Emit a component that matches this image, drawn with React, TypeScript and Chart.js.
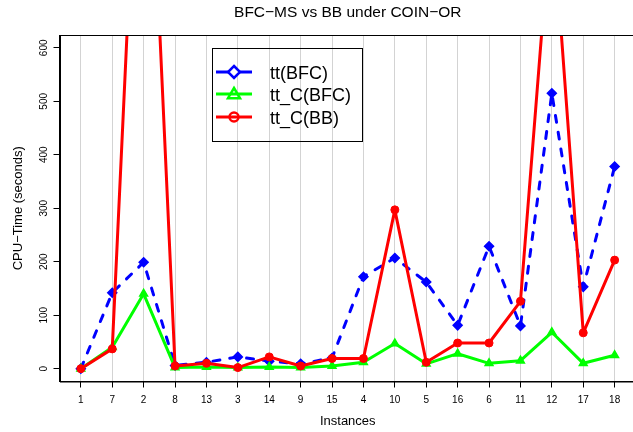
import React, { useEffect, useRef } from "react";
import { Chart, registerables } from "chart.js";

Chart.register(...registerables);

// ---- data ----
const categories = ["1", "7", "2", "8", "13", "3", "14", "9", "15", "4", "10", "5", "16", "6", "11", "12", "17", "18"];
const ttBFC = [0, 142, 199, 6, 12, 22, 14, 9, 20, 172, 207, 162, 81, 229, 80, 515, 153, 378];
const ttCBFC = [0, 40, 140, 2, 3, 2, 3, 2, 5, 12, 47, 9, 28, 10, 15, 68, 10, 25];
const ttCBB = [0, 37, 1290, 5, 10, 2, 22, 5, 19, 19, 297, 12, 48, 48, 126, 868, 67, 203];
const yTicks = [0, 100, 200, 300, 400, 500, 600];
const seriesLabels = ["tt(BFC)", "tt_C(BFC)", "tt_C(BB)"];
const seriesColors = ["#0000ff", "#00ff00", "#ff0000"];

const FONT = "'Liberation Sans', Arial, Helvetica, sans-serif";

const toPoints = (arr: number[]) => arr.map((v, i) => ({ x: i + 1, y: v }));

const frameAndLegend = {
  id: "frameAndLegend",
  afterDraw(chart: any) {
    const ctx = chart.ctx as CanvasRenderingContext2D;
    const ca = chart.chartArea;
    ctx.save();
    // plot box
    ctx.strokeStyle = "#000";
    ctx.lineWidth = 1;
    ctx.setLineDash([]);
    ctx.strokeRect(Math.round(ca.left) + 0.5, Math.round(ca.top) + 0.5, ca.right - ca.left, ca.bottom - ca.top);

    // legend
    const x0 = Math.round(ca.left) + 152;
    const y0 = Math.round(ca.top) + 13;
    const w = 150;
    const h = 93;
    ctx.strokeStyle = "#000";
    ctx.lineWidth = 1;
    ctx.strokeRect(x0 + 0.5, y0 + 0.5, w, h);
    const rows = [24, 46, 69];
    chart.data.datasets.forEach((ds: any, i: number) => {
      const y = y0 + rows[i];
      const mx = x0 + 22;
      ctx.strokeStyle = ds.borderColor;
      ctx.lineWidth = 3;
      ctx.lineCap = "butt";
      ctx.beginPath();
      ctx.moveTo(x0 + 4, y);
      ctx.lineTo(x0 + 40, y);
      ctx.stroke();
      ctx.lineWidth = 2.5;
      ctx.beginPath();
      if (i === 0) {
        const r = 6;
        ctx.moveTo(mx, y - r);
        ctx.lineTo(mx + r, y);
        ctx.lineTo(mx, y + r);
        ctx.lineTo(mx - r, y);
        ctx.closePath();
        ctx.fillStyle = "#fff";
        ctx.fill();
        ctx.stroke();
      } else if (i === 1) {
        const r = 6;
        ctx.moveTo(mx, y - r);
        ctx.lineTo(mx + r, y + r * 0.7);
        ctx.lineTo(mx - r, y + r * 0.7);
        ctx.closePath();
        ctx.stroke();
      } else {
        ctx.arc(mx, y, 4.5, 0, Math.PI * 2);
        ctx.stroke();
      }
      ctx.fillStyle = "#000";
      ctx.font = `18px ${FONT}`;
      ctx.textBaseline = "middle";
      ctx.textAlign = "left";
      ctx.fillText(ds.label, x0 + 58, y + 2);
    });
    ctx.restore();
  },
};

export default function App() {
  const ref = useRef<HTMLCanvasElement | null>(null);

  useEffect(() => {
    if (!ref.current) return;
    Chart.defaults.font.family = FONT;
    Chart.defaults.color = "#000";
    const chart = new Chart(ref.current, {
      type: "line",
      data: {
        datasets: [
          {
            label: seriesLabels[0],
            data: toPoints(ttBFC),
            borderColor: seriesColors[0],
            backgroundColor: seriesColors[0],
            borderWidth: 3,
            borderDash: [7, 10],
            borderCapStyle: "round",
            borderJoinStyle: "round",
            pointStyle: "rectRot",
            pointRadius: 4.5,
            pointBorderWidth: 1.5,
            pointBackgroundColor: seriesColors[0],
            tension: 0,
            order: 3,
          },
          {
            label: seriesLabels[1],
            data: toPoints(ttCBFC),
            borderColor: seriesColors[1],
            backgroundColor: seriesColors[1],
            borderWidth: 3,
            borderJoinStyle: "round",
            pointStyle: "triangle",
            pointRadius: 4.5,
            pointBorderWidth: 1.5,
            pointBackgroundColor: seriesColors[1],
            tension: 0,
            order: 2,
          },
          {
            label: seriesLabels[2],
            data: toPoints(ttCBB),
            borderColor: seriesColors[2],
            backgroundColor: seriesColors[2],
            borderWidth: 3,
            borderJoinStyle: "round",
            pointStyle: "circle",
            pointRadius: 4,
            pointBorderWidth: 1,
            pointBackgroundColor: seriesColors[2],
            tension: 0,
            order: 1,
          },
        ],
      },
      options: {
        animation: false,
        responsive: false,
        layout: { padding: 0 },
        plugins: {
          legend: { display: false },
          tooltip: { enabled: false },
          title: {
            display: true,
            text: "BFC−MS vs BB under COIN−OR",
            fullSize: false,
            color: "#000",
            font: { size: 15.5, weight: "normal", family: FONT },
            padding: { top: 3, bottom: 13.4 },
          },
        },
        scales: {
          x: {
            type: "linear",
            min: 0.32,
            max: 18.68,
            afterBuildTicks: (s: any) => {
              s.ticks = categories.map((_, i) => ({ value: i + 1 }));
            },
            afterFit: (s: any) => {
              s.height = 50.5;
            },
            ticks: {
              callback: (_v: any, i: number) => categories[i],
              autoSkip: false,
              maxRotation: 0,
              minRotation: 0,
              padding: 7,
              color: "#000",
              font: { size: 10 },
            },
            grid: { color: "#d3d3d3", tickColor: "#000", tickLength: 6, lineWidth: 1 },
            border: { color: "#000", width: 1 },
            title: {
              display: true,
              text: "Instances",
              color: "#000",
              font: { size: 13 },
              padding: { top: 0, bottom: 3 },
            },
          },
          y: {
            type: "linear",
            min: -24,
            max: 624,
            afterBuildTicks: (s: any) => {
              s.ticks = yTicks.map((v) => ({ value: v }));
            },
            afterFit: (s: any) => {
              s.width = 59.5;
            },
            ticks: {
              minRotation: 90,
              maxRotation: 90,
              crossAlign: "center",
              padding: 1,
              color: "#000",
              font: { size: 10 },
            },
            grid: { drawOnChartArea: false, tickLength: 6, color: "#000", tickColor: "#000" },
            border: { color: "#000", width: 1 },
            title: {
              display: true,
              text: "CPU−Time (seconds)",
              color: "#000",
              font: { size: 13 },
              padding: { top: 11, bottom: 0 },
            },
          },
        },
      },
      plugins: [frameAndLegend],
    } as any);
    return () => chart.destroy();
  }, []);

  return (
    <div
      style={{
        position: "fixed",
        left: 0,
        top: 0,
        width: 633,
        height: 432,
        overflow: "hidden",
        background: "#fff",
      }}
    >
      <canvas ref={ref} width={642} height={432} style={{ display: "block", width: 642, height: 432 }} />
    </div>
  );
}
